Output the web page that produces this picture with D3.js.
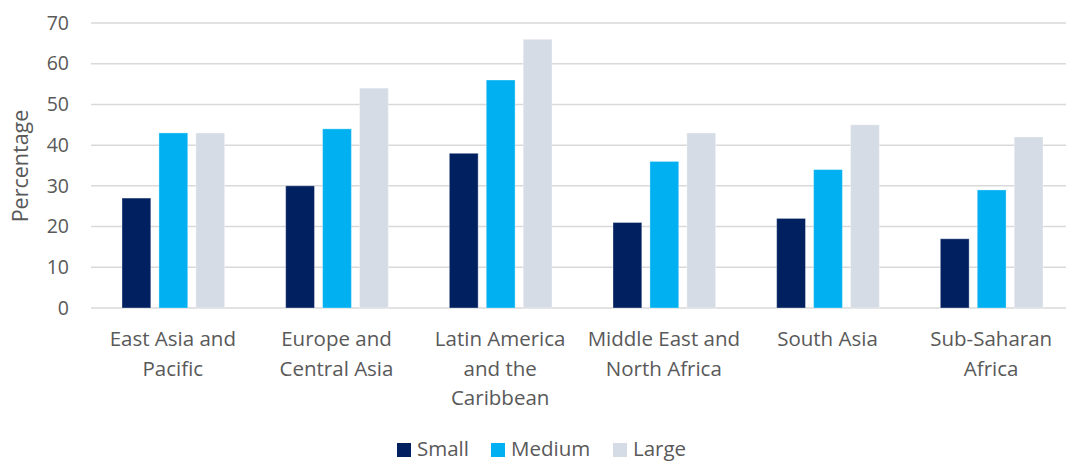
<!DOCTYPE html>
<html>
<head>
<meta charset="utf-8">
<script src="https://cdn.jsdelivr.net/npm/d3@7"></script>
<style>
  html, body { margin: 0; padding: 0; background: #fff; }
  svg { display: block; font-family: "Open Sans", "Noto Sans", sans-serif; }
</style>
</head>
<body>
<svg id="chart" width="1066" height="461"></svg>
<script>
// Regions and firm-size series
const categories = [
  ["East Asia and", "Pacific"],
  ["Europe and", "Central Asia"],
  ["Latin America", "and the", "Caribbean"],
  ["Middle East and", "North Africa"],
  ["South Asia"],
  ["Sub-Saharan", "Africa"]
];
const seriesNames = ["Small", "Medium", "Large"];
const small  = [27, 30, 38, 21, 22, 17];
const medium = [43, 44, 56, 36, 34, 29];
const large  = [43, 54, 66, 43, 45, 42];
const yTicks = [0, 10, 20, 30, 40, 50, 60, 70];
const colors = ["#002060", "#00B0F0", "#D6DCE5"];

const seriesValues = [small, medium, large];
const svg = d3.select("#chart");

const plot = { left: 91, right: 1073, top: 23, bottom: 308 };

const x0 = d3.scaleBand()
  .domain(d3.range(categories.length))
  .range([plot.left, plot.right]);

const x1 = d3.scaleBand()
  .domain(d3.range(seriesNames.length))
  .range([31, x0.bandwidth() - 30])
  .paddingInner(0.22);

const y = d3.scaleLinear().domain([0, 70]).range([plot.bottom, plot.top]);

// gridlines
svg.append("g")
  .selectAll("line")
  .data(yTicks)
  .join("line")
  .attr("x1", plot.left)
  .attr("x2", plot.right)
  .attr("y1", d => y(d))
  .attr("y2", d => y(d))
  .attr("stroke", "#d9d9d9")
  .attr("stroke-width", 1.5);

// y tick labels
const yAxis = svg.append("g")
  .attr("transform", `translate(${plot.left - 22},0)`)
  .call(d3.axisLeft(y).tickValues(yTicks).tickSize(0).tickPadding(0));
yAxis.select(".domain").remove();
yAxis.selectAll("text")
  .attr("fill", "#595959")
  .attr("font-size", 19.5)
  .attr("font-family", "'Open Sans', sans-serif");

// y axis title
svg.append("text")
  .attr("transform", `translate(28,166) rotate(-90)`)
  .attr("text-anchor", "middle")
  .attr("fill", "#595959")
  .attr("font-size", 21.5)
  .text("Percentage");

// bars
const groups = svg.append("g")
  .selectAll("g")
  .data(categories.map((c, i) => i))
  .join("g")
  .attr("transform", i => `translate(${x0(i)},0)`);

groups.selectAll("rect")
  .data(i => seriesValues.map((s, k) => ({ k, v: s[i] })))
  .join("rect")
  .attr("x", d => x1(d.k))
  .attr("width", x1.bandwidth())
  .attr("y", d => y(d.v))
  .attr("height", d => y(0) - y(d.v))
  .attr("fill", d => colors[d.k])
  .attr("stroke", "#ffffff")
  .attr("stroke-opacity", 0.35)
  .attr("stroke-width", 1);

// category labels
const catLabels = svg.append("g")
  .selectAll("text")
  .data(categories)
  .join("text")
  .attr("x", (d, i) => x0(i) + x0.bandwidth() / 2)
  .attr("y", 346)
  .attr("text-anchor", "middle")
  .attr("fill", "#595959")
  .attr("font-size", 20.5);
catLabels.selectAll("tspan")
  .data(d => d)
  .join("tspan")
  .attr("x", function () { return d3.select(this.parentNode).attr("x"); })
  .attr("dy", (d, j) => j === 0 ? 0 : 29.5)
  .text(d => d);

// legend
const legendX = [397, 491, 613];
const legend = svg.append("g")
  .selectAll("g")
  .data(seriesNames)
  .join("g")
  .attr("transform", (d, i) => `translate(${legendX[i]},443)`);
legend.append("rect")
  .attr("width", 14)
  .attr("height", 14)
  .attr("fill", (d, i) => colors[i]);
legend.append("text")
  .attr("x", 20)
  .attr("y", 13)
  .attr("fill", "#595959")
  .attr("font-size", 20.5)
  .text(d => d);
</script>
</body>
</html>
